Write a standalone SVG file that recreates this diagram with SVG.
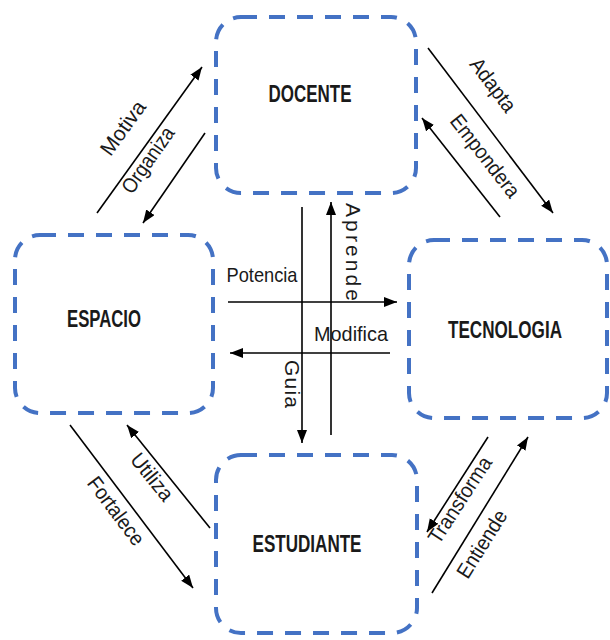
<svg xmlns="http://www.w3.org/2000/svg" width="610" height="640" viewBox="0 0 610 640">
  <style>
    .box { fill: #ffffff; stroke: #4472C4; stroke-width: 4; stroke-dasharray: 16 12; stroke-linecap: butt; }
    .title { font-family: "Liberation Sans", Arial, sans-serif; font-weight: bold; font-size: 23px; fill: #1a1a1a; text-anchor: middle; }
    .lbl { font-family: "Liberation Sans", Arial, sans-serif; font-size: 21px; fill: #1a1a1a; text-anchor: middle; }
    .arr { stroke: #000000; stroke-width: 1.6; fill: none; marker-end: url(#head); }
  </style>
  <defs>
    <marker id="head" markerUnits="userSpaceOnUse" markerWidth="14" markerHeight="11" refX="13" refY="5" orient="auto">
      <path d="M0,0 L13,5 L0,10 z" fill="#000000"/>
    </marker>
  </defs>
  <rect width="610" height="640" fill="#ffffff"/>

  <g id="docente">
    <rect class="box" x="216" y="17" width="200" height="176" rx="25"/>
    <text class="title" x="310" y="102" textLength="83" lengthAdjust="spacingAndGlyphs">DOCENTE</text>
  </g>
  <g id="espacio">
    <rect class="box" x="15" y="235" width="198" height="178" rx="25"/>
    <text class="title" x="104" y="327" textLength="74" lengthAdjust="spacingAndGlyphs">ESPACIO</text>
  </g>
  <g id="tecnologia">
    <rect class="box" x="409" y="240" width="198" height="178" rx="25"/>
    <text class="title" x="505" y="338" textLength="114" lengthAdjust="spacingAndGlyphs">TECNOLOGIA</text>
  </g>
  <g id="estudiante">
    <rect class="box" x="216" y="455" width="201" height="178" rx="25"/>
    <text class="title" x="307" y="552" textLength="109" lengthAdjust="spacingAndGlyphs">ESTUDIANTE</text>
  </g>

  <g id="connectors">
    <!-- ESPACIO <-> DOCENTE -->
    <line class="arr" x1="97" y1="213" x2="202" y2="67"/>
    <line class="arr" x1="205" y1="133" x2="143" y2="223"/>
    <!-- DOCENTE <-> TECNOLOGIA -->
    <line class="arr" x1="428" y1="48" x2="553" y2="213"/>
    <line class="arr" x1="500" y1="217" x2="422" y2="118"/>
    <!-- ESPACIO <-> ESTUDIANTE -->
    <line class="arr" x1="70" y1="425" x2="193" y2="588"/>
    <line class="arr" x1="210" y1="528" x2="127" y2="425"/>
    <!-- TECNOLOGIA <-> ESTUDIANTE -->
    <line class="arr" x1="488" y1="437" x2="427" y2="532"/>
    <line class="arr" x1="432" y1="593" x2="528" y2="437"/>
    <!-- crossing arrows in the middle -->
    <line class="arr" x1="302" y1="207" x2="302" y2="443"/>
    <line class="arr" x1="331" y1="435" x2="331" y2="202"/>
    <line class="arr" x1="228" y1="302" x2="397" y2="302"/>
    <line class="arr" x1="390" y1="353" x2="230" y2="353"/>

    <!-- labels -->
    <text class="lbl" transform="translate(123,128) rotate(-54)" y="7" textLength="62" lengthAdjust="spacingAndGlyphs">Motiva</text>
    <text class="lbl" transform="translate(148,160) rotate(-55)" y="7" textLength="76" lengthAdjust="spacingAndGlyphs">Organiza</text>
    <text class="lbl" transform="translate(493,85) rotate(53)" y="7" textLength="62" lengthAdjust="spacingAndGlyphs">Adapta</text>
    <text class="lbl" transform="translate(485,156) rotate(52)" y="7" textLength="99" lengthAdjust="spacingAndGlyphs">Empondera</text>
    <text class="lbl" transform="translate(152,477) rotate(51)" y="7" textLength="55" lengthAdjust="spacingAndGlyphs">Utiliza</text>
    <text class="lbl" transform="translate(116,511) rotate(53)" y="7" textLength="80" lengthAdjust="spacingAndGlyphs">Fortalece</text>
    <text class="lbl" transform="translate(460,500) rotate(-57)" y="7" textLength="99" lengthAdjust="spacingAndGlyphs">Transforma</text>
    <text class="lbl" transform="translate(482,544) rotate(-58)" y="7" textLength="76" lengthAdjust="spacingAndGlyphs">Entiende</text>
    <text class="lbl" x="262" y="282" textLength="71" lengthAdjust="spacingAndGlyphs">Potencia</text>
    <text class="lbl" x="351" y="341" textLength="74" lengthAdjust="spacingAndGlyphs">Modifica</text>
    <text class="lbl" transform="translate(353,252) rotate(90)" y="7" textLength="98" lengthAdjust="spacing">Aprende</text>
    <text class="lbl" transform="translate(292,384) rotate(90)" y="7" textLength="48" lengthAdjust="spacing">Guia</text>
  </g>
</svg>
